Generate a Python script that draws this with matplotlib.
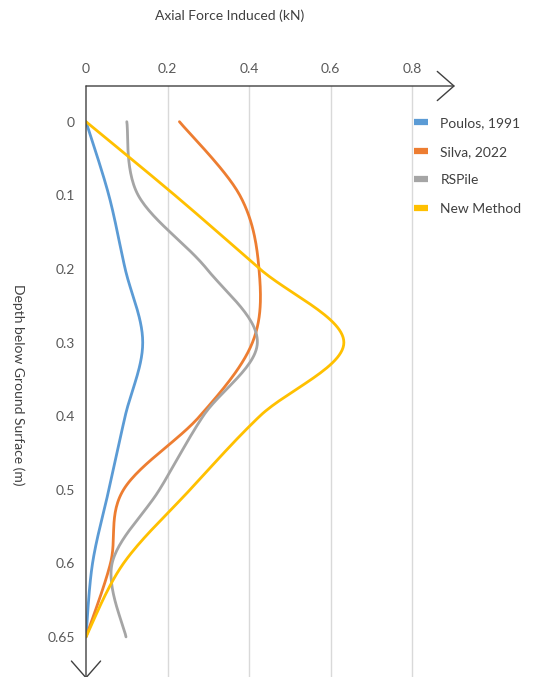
import numpy as np
import matplotlib
matplotlib.use("Agg")
import matplotlib.pyplot as plt

plt.rcParams['font.family'] = ['Lato', 'DejaVu Sans']

# Depth categories (m) and induced axial force (kN) for each method
depths = ["0", "0.1", "0.2", "0.3", "0.4", "0.5", "0.6", "0.65"]
poulos_1991 = [0.0, 0.056, 0.096, 0.139, 0.096, 0.056, 0.016, 0.0]
silva_2022 = [0.229, 0.377, 0.424, 0.408, 0.279, 0.092, 0.060, 0.0]
rspile = [0.100, 0.128, 0.296, 0.420, 0.287, 0.180, 0.064, 0.098]
new_method = [0.0, 0.218, 0.426, 0.632, 0.426, 0.255, 0.092, 0.0]

series = [
    ("Poulos, 1991", poulos_1991, "#5B9BD5"),
    ("Silva, 2022", silva_2022, "#ED7D31"),
    ("RSPile", rspile, "#A5A5A5"),
    ("New Method", new_method, "#FFC000"),
]
x_ticks = [0, 0.2, 0.4, 0.6, 0.8]

W, H = 534, 677
fig = plt.figure(figsize=(W / 100, H / 100), dpi=100)
ax = fig.add_axes([86 / W, 0.0, (455 - 86) / W, 1 - 86 / H])

ypos = np.arange(len(depths))
ax.set_xlim(0, (455 - 86) / 408)
ax.set_ylim((677 - 121.7) / 73.6, -(121.7 - 86) / 73.6)

for s in ax.spines.values():
    s.set_visible(False)

ax.set_xticks(x_ticks)
ax.set_xticklabels(["0" if v == 0 else f"{v:g}" for v in x_ticks])
ax.xaxis.tick_top()
ax.set_yticks(ypos)
ax.set_yticklabels(depths)
ax.tick_params(axis='both', length=0, labelsize=10, labelcolor="#595959")
ax.tick_params(axis='x', pad=8)
ax.tick_params(axis='y', pad=8)
for v in x_ticks[1:]:
    ax.axvline(v, color="#D9D9D9", lw=1.0, zorder=0)


def smooth(xs, ys, n=30):
    # Catmull-Rom style Bezier smoothing carried out in display space
    pts = ax.transData.transform(np.column_stack([xs, ys]))
    P = np.vstack([pts[0], pts, pts[-1]])
    out = []
    t = np.linspace(0, 1, n)[:, None]
    for i in range(1, len(P) - 2):
        p0, p1, p2, p3 = P[i - 1], P[i], P[i + 1], P[i + 2]
        c1 = p1 + (p2 - p0) / 6
        c2 = p2 - (p3 - p1) / 6
        seg = ((1 - t) ** 3) * p1 + 3 * ((1 - t) ** 2) * t * c1 + 3 * (1 - t) * t ** 2 * c2 + t ** 3 * p2
        out.append(seg if i == 1 else seg[1:])
    return ax.transData.inverted().transform(np.vstack(out))


for label, vals, color in series:
    curve = smooth(np.array(vals), ypos.astype(float))
    ax.plot(curve[:, 0], curve[:, 1], color=color, lw=2.0, label=label,
            solid_capstyle='round', zorder=3)

# Axes drawn as arrows: force axis along the top, depth axis downwards
axis_col = "#404040"
ax.annotate("", xy=(1.0, 1.0), xytext=(0.0, 1.0), xycoords='axes fraction',
            arrowprops=dict(arrowstyle="->,head_length=1.2,head_width=1.05",
                            color=axis_col, lw=1.0, shrinkA=0, shrinkB=0),
            annotation_clip=False)
ax.annotate("", xy=(0.0, -0.003), xytext=(0.0, 1.0), xycoords='axes fraction',
            arrowprops=dict(arrowstyle="->,head_length=1.2,head_width=1.05",
                            color=axis_col, lw=1.0, shrinkA=0, shrinkB=0),
            annotation_clip=False)

fig.text(230 / W, 1 - 16 / H, "Axial Force Induced (kN)", ha='center', va='center',
         fontsize=10, color="#404040")
fig.text(18 / W, 1 - 385 / H, "Depth below Ground Surface (m)", ha='center', va='center',
         rotation=270, fontsize=10, color="#404040")

leg = ax.legend(loc='upper left', bbox_to_anchor=(414 / W, 1 - 117 / H),
                bbox_transform=fig.transFigure, frameon=False, fontsize=10,
                handlelength=1.0, handletextpad=0.9, labelspacing=1.2,
                borderaxespad=0, borderpad=0)
for h in leg.get_lines():
    h.set_linewidth(4.5)
    h.set_solid_capstyle('butt')
for t in leg.get_texts():
    t.set_color("#404040")

fig.savefig("out.png", dpi=100)
